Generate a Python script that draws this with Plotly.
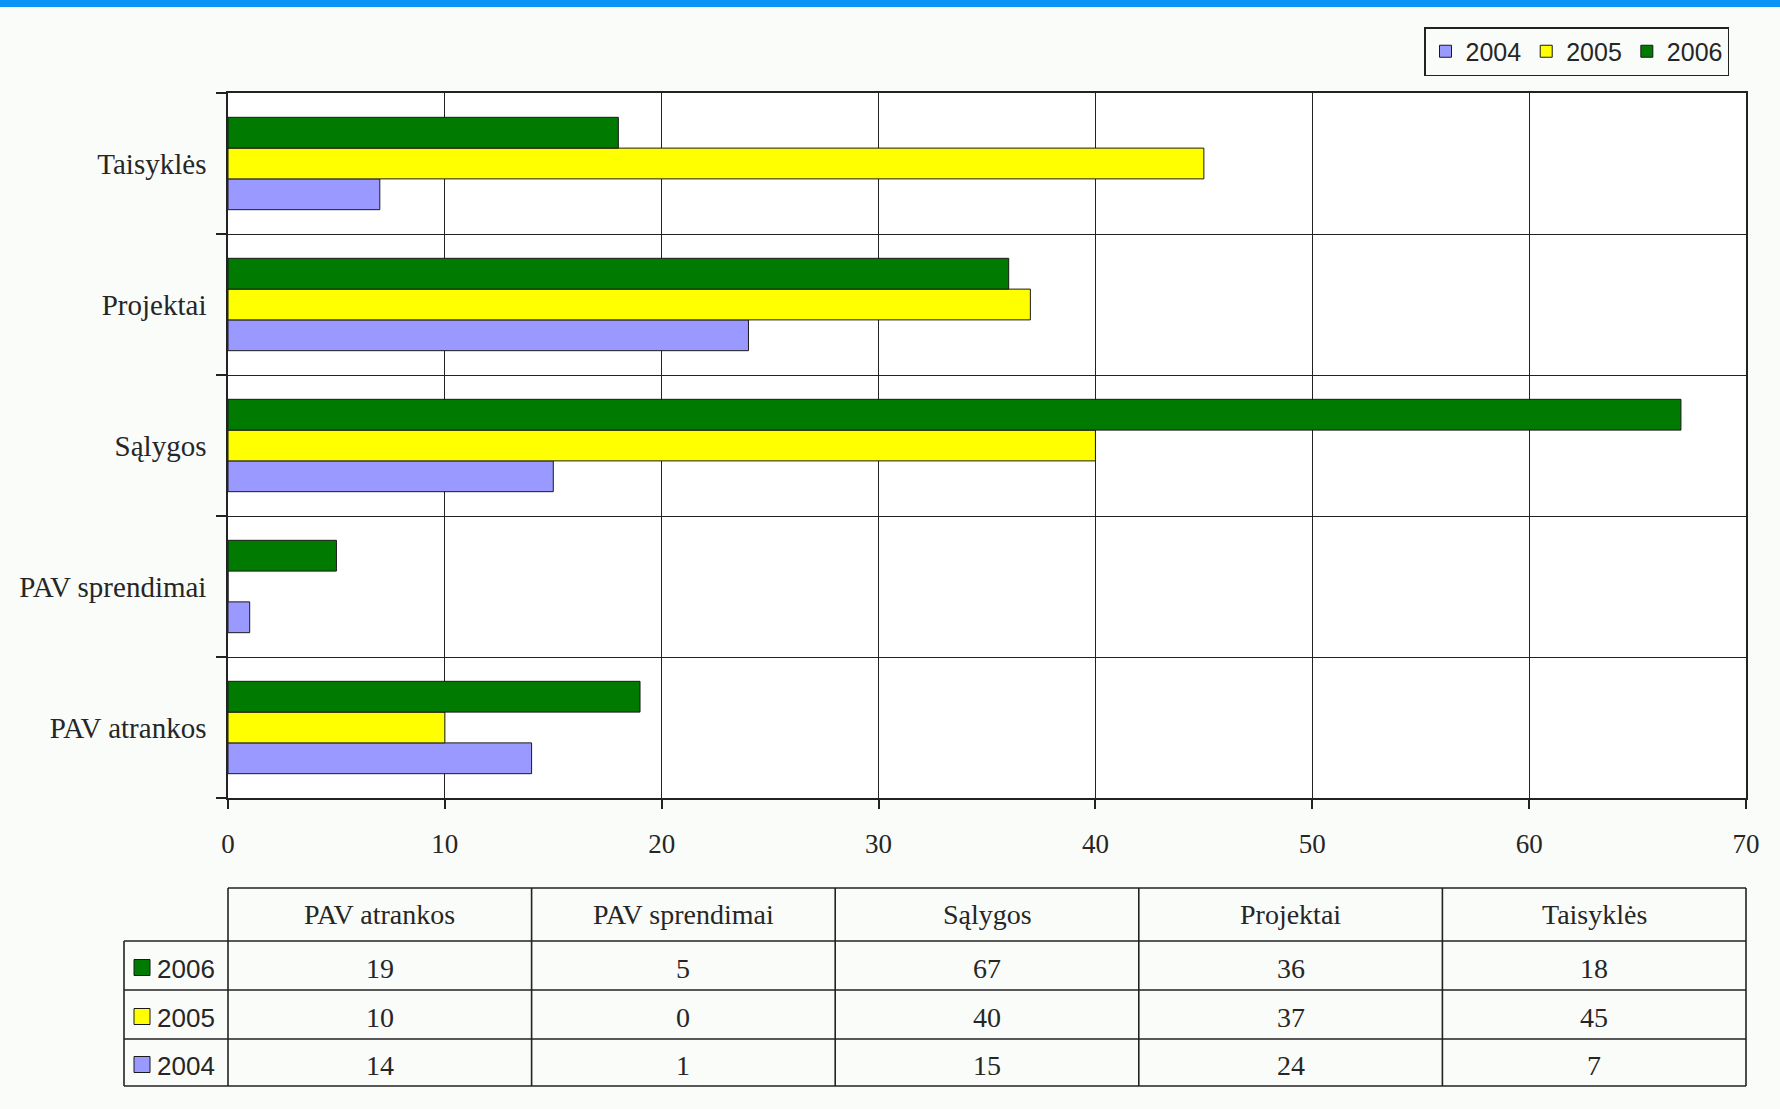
import plotly.graph_objects as go

categories = ["PAV atrankos", "PAV sprendimai", "Sąlygos", "Projektai", "Taisyklės"]
years = ["2004", "2005", "2006"]
values_2004 = [14, 1, 15, 24, 7]
values_2005 = [10, 0, 40, 37, 45]
values_2006 = [19, 5, 67, 36, 18]
x_ticks = [0, 10, 20, 30, 40, 50, 60, 70]

series = {"2004": values_2004, "2005": values_2005, "2006": values_2006}
colors = {"2004": "#9999FF", "2005": "#FFFF00", "2006": "#007A00"}

W, H = 1780, 1109
PL, PR, PT, PB = 228, 1746, 93, 798  # plot area in pixels
PAPER = "#F9FCF9"
SERIF = "Liberation Serif, Times New Roman, serif"
SANS = "Liberation Sans, Arial, sans-serif"
LINE = "#222222"
TXT = "#262626"


def px(x):
    return (x - PL) / (PR - PL)


def py(y):
    return (PB - y) / (PB - PT)


fig = go.Figure()
for yr in years:
    fig.add_trace(go.Bar(
        y=categories, x=series[yr], name=yr, orientation="h",
        marker=dict(color=colors[yr], line=dict(color="#1a1a1a", width=1)),
    ))

shapes = []
annotations = []

# blue band on top
shapes.append(dict(type="rect", xref="paper", yref="paper", x0=px(-5), x1=px(W + 5),
                   y0=py(7), y1=py(-5), fillcolor="#0894F4", line=dict(width=0), layer="above"))

# table geometry
col_edges = [PL + i * (PR - PL) / len(categories) for i in range(len(categories) + 1)]
leg_left = 124
header_top, header_bot = 888, 941
row_edges = [941, 990, 1039, 1086]
row_years = ["2006", "2005", "2004"]

def hline(x0, x1, y):
    shapes.append(dict(type="line", xref="paper", yref="paper", x0=px(x0), x1=px(x1),
                       y0=py(y), y1=py(y), line=dict(color=LINE, width=1.6)))

def vline(x, y0, y1):
    shapes.append(dict(type="line", xref="paper", yref="paper", x0=px(x), x1=px(x),
                       y0=py(y0), y1=py(y1), line=dict(color=LINE, width=1.6)))

hline(PL, PR, header_top)
for y in row_edges:
    hline(leg_left, PR, y)
vline(leg_left, row_edges[0], row_edges[-1])
for x in col_edges:
    vline(x, header_top, row_edges[-1])

# header text
for i, c in enumerate(categories):
    annotations.append(dict(xref="paper", yref="paper", x=px((col_edges[i] + col_edges[i + 1]) / 2),
                            y=py((header_top + header_bot) / 2), text=c, showarrow=False,
                            font=dict(family=SERIF, size=28, color=TXT),
                            xanchor="center", yanchor="middle"))

# rows
for r, yr in enumerate(row_years):
    yc = (row_edges[r] + row_edges[r + 1]) / 2
    shapes.append(dict(type="rect", xref="paper", yref="paper", x0=px(134), x1=px(150),
                       y0=py(yc + 10), y1=py(yc - 6), fillcolor=colors[yr],
                       line=dict(color="#1a1a1a", width=1)))
    annotations.append(dict(xref="paper", yref="paper", x=px(155), y=py(yc + 3), text=yr,
                            showarrow=False, font=dict(family=SANS, size=26, color=TXT),
                            xanchor="left", yanchor="middle"))
    for i, v in enumerate(series[yr]):
        annotations.append(dict(xref="paper", yref="paper", x=px((col_edges[i] + col_edges[i + 1]) / 2),
                                y=py(yc + 3), text=str(v), showarrow=False,
                                font=dict(family=SERIF, size=28, color=TXT),
                                xanchor="center", yanchor="middle"))

fig.update_layout(
    width=W, height=H,
    margin=dict(l=PL, r=W - PR, t=PT, b=H - PB),
    paper_bgcolor=PAPER, plot_bgcolor="#FEFFFE",
    barmode="group", bargap=0.345, bargroupgap=0,
    showlegend=True,
    legend=dict(orientation="h", x=px(1729), xanchor="right", y=py(27), yanchor="top",
                bgcolor=PAPER, bordercolor=LINE, borderwidth=1.5,
                font=dict(family=SANS, size=25, color=TXT),
                traceorder="normal", itemwidth=30),
    xaxis=dict(range=[0, 70], tickvals=x_ticks, ticktext=[str(t) for t in x_ticks],
               showgrid=True, gridcolor=LINE, gridwidth=1.3,
               showline=True, linecolor=LINE, linewidth=1.5, mirror=True,
               ticks="outside", ticklen=9, tickcolor=LINE, tickwidth=1.5,
               tickfont=dict(family=SERIF, size=27, color=TXT),
               ticklabelstandoff=12, zeroline=False, fixedrange=True),
    yaxis=dict(categoryorder="array", categoryarray=categories,
               tickson="boundaries", showgrid=True, gridcolor=LINE, gridwidth=1.3,
               showline=True, linecolor=LINE, linewidth=1.5, mirror=True,
               ticks="outside", ticklen=10, tickcolor=LINE, tickwidth=1.5,
               tickfont=dict(family=SERIF, size=29, color=TXT),
               ticklabelstandoff=14, fixedrange=True),
    shapes=shapes, annotations=annotations,
)

fig.write_html("out.html", config={"displayModeBar": False},
               post_script="document.body.style.margin='0px';document.body.style.overflow='hidden';")
